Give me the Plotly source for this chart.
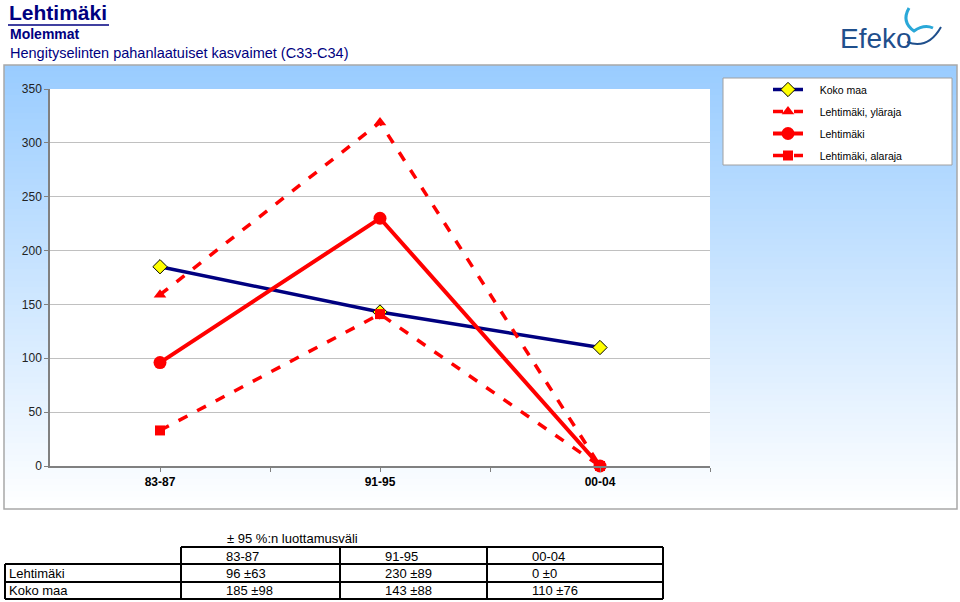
import plotly.graph_objects as go

# ---------------- data ----------------
periods = ["83-87", "91-95", "00-04"]
koko_maa = [185, 143, 110]
lehtimaki = [96, 230, 0]
lehti_upper = [159, 319, 0]
lehti_lower = [33, 141, 0]
lehti_ci = [63, 89, 0]
koko_ci = [98, 88, 76]
y_ticks = [0, 50, 100, 150, 200, 250, 300, 350]

series_names = ["Koko maa", "Lehtimäki, yläraja", "Lehtimäki", "Lehtimäki, alaraja"]
table_caption = "± 95 %:n luottamusväli"
title_main = "Lehtimäki"
title_sub = "Molemmat"
title_desc = "Hengityselinten pahanlaatuiset kasvaimet (C33-C34)"

# ---------------- geometry helpers (pixel -> paper) ----------------
W, H = 960, 602
L, R, T, B = 50, 710, 89, 466


def px(x):
    return (x - L) / (R - L)


def py(y):
    return (B - y) / (B - T)


FONT = "Arial, Liberation Sans, sans-serif"
NAVY = "#000080"
RED = "#FF0000"
PAD = "\u00a0" * 4

xs = list(range(len(periods)))
fig = go.Figure()

fig.add_trace(go.Scatter(
    x=xs, y=koko_maa, name=PAD + series_names[0], mode="lines+markers", legendgroup="a",
    cliponaxis=False,
    line=dict(color=NAVY, width=3.5),
    marker=dict(symbol="diamond", size=11, color="#FFFF00", line=dict(color="#000000", width=1)),
))
fig.add_trace(go.Scatter(
    x=xs, y=lehti_upper, name=PAD + series_names[1], mode="lines+markers", legendgroup="b",
    cliponaxis=False,
    line=dict(color=RED, width=3.5, dash="10px,11px"),
    marker=dict(symbol="triangle-up", size=11, color=RED),
))
fig.add_trace(go.Scatter(
    x=xs, y=lehtimaki, name=PAD + series_names[2], mode="lines+markers", legendgroup="c",
    cliponaxis=False,
    line=dict(color=RED, width=4),
    marker=dict(symbol="circle", size=13, color=RED),
))
fig.add_trace(go.Scatter(
    x=xs, y=lehti_lower, name=PAD + series_names[3], mode="lines+markers", legendgroup="d",
    cliponaxis=False,
    line=dict(color=RED, width=3.5, dash="10px,11px"),
    marker=dict(symbol="square", size=10, color=RED),
))

shapes = []
# gradient panel background
top_c = (153, 204, 255)
y0p, y1p = 65, 509
steps = 74
for i in range(steps):
    ya = y0p + (y1p - y0p) * i / steps
    yb = y0p + (y1p - y0p) * (i + 1) / steps
    t = (i + 0.5) / steps
    c = tuple(int(round(top_c[k] + (255 - top_c[k]) * t)) for k in range(3))
    shapes.append(dict(type="rect", xref="paper", yref="paper", layer="below",
                       x0=px(4), x1=px(957), y0=py(ya), y1=py(yb + 0.6),
                       fillcolor="rgb(%d,%d,%d)" % c, line=dict(width=0)))
# panel border
shapes.append(dict(type="rect", xref="paper", yref="paper", layer="below",
                   x0=px(4), x1=px(957), y0=py(65), y1=py(509),
                   line=dict(color="#A8A8A8", width=1.5)))
# plot area white
shapes.append(dict(type="rect", xref="paper", yref="paper", layer="below",
                   x0=0, x1=1, y0=0, y1=1, fillcolor="white", line=dict(width=0)))
# legend box
shapes.append(dict(type="rect", xref="paper", yref="paper", layer="below",
                   x0=px(723), x1=px(952), y0=py(78), y1=py(165),
                   fillcolor="white", line=dict(color="#A0A0A0", width=1)))
# title underline
shapes.append(dict(type="line", xref="paper", yref="paper",
                   x0=px(8), x1=px(109), y0=py(25), y1=py(25),
                   line=dict(color=NAVY, width=1.5)))


# table lines
def hline(y, xa, xb):
    shapes.append(dict(type="line", xref="paper", yref="paper", x0=px(xa), x1=px(xb),
                       y0=py(y), y1=py(y), line=dict(color="black", width=2)))


def vline(x, ya, yb):
    shapes.append(dict(type="line", xref="paper", yref="paper", x0=px(x), x1=px(x),
                       y0=py(ya), y1=py(yb), line=dict(color="black", width=2)))


col_x = [181, 340, 487, 663]
row_y = [547, 564, 582, 599]
hline(row_y[0], col_x[0], col_x[-1])
for yy in row_y[1:]:
    hline(yy, 5, col_x[-1])
vline(5, row_y[1], row_y[-1])
for cx in col_x:
    vline(cx, row_y[0], row_y[-1])


# logo swoosh
def path(points, cmd):
    return cmd.format(*[v for p in points for v in (px(p[0]), py(p[1]))])


shapes.append(dict(type="path", xref="paper", yref="paper",
                   path=path([(909, 8), (901, 22), (914, 31), (924, 24), (933, 28)],
                             "M {},{} Q {},{} {},{} Q {},{} {},{}"),
                   line=dict(color="#2AA8D8", width=3)))
shapes.append(dict(type="path", xref="paper", yref="paper",
                   path=path([(907, 42), (928, 50), (941, 27)], "M {},{} Q {},{} {},{}"),
                   line=dict(color="#1F4F8C", width=2)))

annotations = []


def ann(text, x, y, size, color="black", xanchor="left", bold=False, family=FONT):
    annotations.append(dict(text=("<b>%s</b>" % text) if bold else text,
                            x=px(x), y=py(y), xref="paper", yref="paper",
                            xanchor=xanchor, yanchor="middle", showarrow=False,
                            font=dict(family=family, size=size, color=color)))


ann(title_main, 7, 13, 21, NAVY, bold=True)
ann(title_sub, 8, 34, 14, NAVY, bold=True)
ann(title_desc, 8, 53, 14.5, NAVY)
ann("Efeko", 876, 38, 28, "#1F4F8C", xanchor="center")

# table text
ann(table_caption, 225, 538, 13)
cell_x = [c + 43 for c in col_x[:3]]
for i, p in enumerate(periods):
    ann(p, cell_x[i], 556, 13)
row_names = [series_names[2], series_names[0]]
row_vals = [(lehtimaki, lehti_ci), (koko_maa, koko_ci)]
for r, (nm, (vals, ci)) in enumerate(zip(row_names, row_vals)):
    yc = (row_y[r + 1] + row_y[r + 2]) / 2
    ann(nm, 7, yc, 13)
    for i in range(len(periods)):
        ann("%d ±%d" % (vals[i], ci[i]), cell_x[i], yc, 13)

fig.update_layout(
    width=W, height=H,
    margin=dict(l=L, r=W - R, t=T, b=H - B, pad=0),
    paper_bgcolor="white", plot_bgcolor="white",
    font=dict(family=FONT, size=12, color="black"),
    showlegend=True,
    legend=dict(x=px(768), y=py(75), xanchor="left", yanchor="top",
                bgcolor="rgba(0,0,0,0)", borderwidth=0,
                traceorder="grouped", tracegroupgap=3,
                font=dict(family=FONT, size=10.5, color="black")),
    shapes=shapes, annotations=annotations,
    xaxis=dict(range=[-0.5, 2.5], tickvals=xs, ticktext=periods, showgrid=False,
               zeroline=False, showline=True, linecolor="#808080", linewidth=1.5,
               ticks="outside", ticklen=4, tickcolor="#808080",
               minor=dict(tickvals=[0.5, 1.5, 2.5], ticks="outside", ticklen=4, tickcolor="#808080"),
               tickfont=dict(family=FONT, size=12, color="black", weight="bold")),
    yaxis=dict(range=[0, 350], tickvals=y_ticks, showgrid=True, gridcolor="#C0C0C0",
               gridwidth=1, zeroline=False, showline=True, linecolor="#808080",
               linewidth=1.5, ticks="outside", ticklen=4, tickcolor="#808080",
               tickfont=dict(family=FONT, size=12, color="#222222")),
)

fig.write_html("out.html", config={"displayModeBar": False},
               post_script="document.body.style.margin='0';document.body.style.padding='0';")
